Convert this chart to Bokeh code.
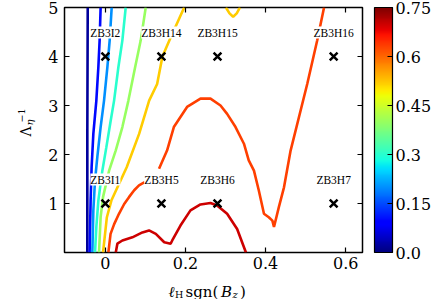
import numpy as np
from bokeh.plotting import figure
from bokeh.layouts import row, column
from bokeh.core.properties import value
from bokeh.models import (ColumnDataSource, LinearColorMapper, ColorBar, FixedTicker,
                          LinearAxis, CustomJSTickFormatter, LabelSet, Range1d)
from bokeh.transform import linear_cmap
from bokeh.embed import file_html
from bokeh.resources import INLINE

# ---------------- data ----------------
# contour levels (colour on the 0..0.75 jet scale)
levels = [0.02, 0.1, 0.2, 0.3, 0.4, 0.52, 0.52, 0.63, 0.63, 0.7]

c_navy_x = [-0.045, -0.045, -0.044]
c_navy_y = [0.0, 2.5, 5.0]

c_blue_x = [-0.0393, -0.0368, -0.0343, -0.030, -0.0225, -0.0175, -0.0143, -0.0118]
c_blue_y = [0.0, 1.06, 1.74, 2.42, 3.10, 3.78, 4.33, 5.0]

c_dodger_x = [-0.0325, -0.030, -0.0258, -0.020, -0.0118, -0.0033, 0.005, 0.0108, 0.0158]
c_dodger_y = [0.0, 0.86, 1.47, 1.95, 2.56, 3.10, 3.78, 4.33, 5.0]

c_cyan_x = [-0.0258, -0.0225, -0.0175, -0.0075, 0.0025, 0.0133, 0.0218, 0.0325, 0.0425, 0.0508]
c_cyan_y = [0.0, 0.52, 1.06, 1.67, 2.15, 2.69, 3.10, 3.78, 4.33, 5.0]

c_green_x = [-0.0158, -0.0118, -0.0058, 0.0093, 0.0258, 0.0425, 0.0575, 0.0743, 0.0883, 0.1008]
c_green_y = [0.0, 0.72, 1.13, 1.67, 2.08, 2.56, 3.10, 3.78, 4.33, 5.0]

c_gold_x = [-0.0058, 0.0038, 0.015, 0.0533, 0.0843, 0.1093, 0.1293, 0.1425, 0.160, 0.1968]
c_gold_y = [0.0, 0.72, 1.06, 1.74, 2.42, 3.10, 3.44, 4.0, 4.33, 5.0]

c_goldtop_x = [0.301, 0.310, 0.319, 0.328, 0.336]
c_goldtop_y = [5.0, 4.88, 4.81, 4.88, 5.0]

c_orange1_x = [0.0075, 0.013, 0.022, 0.034, 0.047, 0.059, 0.072, 0.084, 0.097, 0.105]
c_orange1_y = [0.0, 0.38, 0.58, 0.79, 0.99, 1.13, 1.27, 1.37, 1.43, 1.41]

c_orange2_x = [0.134, 0.154, 0.171, 0.204, 0.2375, 0.2625, 0.2875, 0.304, 0.325, 0.346,
               0.358, 0.371, 0.383, 0.396, 0.408, 0.417, 0.421, 0.433, 0.446, 0.4625,
               0.504, 0.529, 0.546]
c_orange2_y = [1.71, 2.08, 2.56, 2.97, 3.14, 3.14, 3.0, 2.83, 2.56, 2.22,
               1.88, 1.67, 1.27, 0.79, 0.72, 0.65, 0.52, 0.92, 1.33, 2.08,
               3.44, 4.33, 5.0]

c_red_x = [0.026, 0.030, 0.0425, 0.0675, 0.0925, 0.109, 0.126, 0.147, 0.163, 0.167,
           0.1875, 0.2125, 0.2375, 0.2625, 0.279, 0.304, 0.329, 0.351]
c_red_y = [0.0, 0.18, 0.245, 0.31, 0.41, 0.45, 0.38, 0.21, 0.18, 0.245,
           0.55, 0.86, 0.98, 1.01, 0.96, 0.79, 0.48, 0.0]

run_names = ["ZB3I2", "ZB3H14", "ZB3H15", "ZB3H16", "ZB3I1", "ZB3H5", "ZB3H6", "ZB3H7"]
run_x = [0.0, 0.14, 0.28, 0.57, 0.0, 0.14, 0.28, 0.57]
run_y = [4, 4, 4, 4, 1, 1, 1, 1]

x_ticks = [0.0, 0.2, 0.4, 0.6]
y_ticks = [1, 2, 3, 4, 5]
cbar_ticks = [0.0, 0.15, 0.3, 0.45, 0.6, 0.75]

# ---------------- jet palette ----------------
def jet(n=256):
    t = np.linspace(0, 1, n)
    r = np.interp(t, [0, 0.35, 0.66, 0.89, 1], [0, 0, 1, 1, 0.5])
    g = np.interp(t, [0, 0.125, 0.375, 0.64, 0.91, 1], [0, 0, 1, 1, 0, 0])
    b = np.interp(t, [0, 0.11, 0.34, 0.65, 1], [0.5, 1, 1, 0, 0])
    return ["#%02x%02x%02x" % (int(round(255 * a)), int(round(255 * bb)), int(round(255 * c)))
            for a, bb, c in zip(r, g, b)]

palette = jet()

SERIF = "DejaVu Serif"
TICK_SIZE = "16px"

# ---------------- main plot ----------------
p = figure(width=396, height=275, output_backend="svg", toolbar_location=None,
           x_range=Range1d(-0.102, 0.642), y_range=Range1d(0, 5),
           min_border_left=24, min_border_top=7, min_border_bottom=23, min_border_right=74)
p.background_fill_color = "white"
p.border_fill_color = "white"
p.grid.visible = False
p.outline_line_color = "black"
p.outline_line_width = 1.5

src = ColumnDataSource(dict(
    xs=[c_navy_x, c_blue_x, c_dodger_x, c_cyan_x, c_green_x, c_gold_x, c_goldtop_x,
        c_orange1_x, c_orange2_x, c_red_x],
    ys=[c_navy_y, c_blue_y, c_dodger_y, c_cyan_y, c_green_y, c_gold_y, c_goldtop_y,
        c_orange1_y, c_orange2_y, c_red_y],
    level=levels))
p.multi_line(xs="xs", ys="ys", source=src, line_width=2.6,
             line_color=linear_cmap("level", palette, 0, 0.75))

rsrc = ColumnDataSource(dict(x=run_x, y=run_y, name=run_names))
p.scatter(x="x", y="y", source=rsrc, marker="x", size=11, line_width=2.5, line_color="black")
labels = LabelSet(x="x", y="y", text="name", source=rsrc, y_offset=24,
                  text_align="center", text_baseline="middle",
                  text_font=SERIF, text_font_size="11.5px", text_color="black",
                  background_fill_color="white")
p.add_layout(labels)


def style_axis(ax):
    ax.major_tick_in = 5
    ax.major_tick_out = 0
    ax.minor_tick_line_color = None
    ax.major_tick_line_color = "black"
    ax.major_tick_line_width = 1.2
    ax.axis_line_color = None
    ax.major_label_text_font = SERIF
    ax.major_label_text_font_size = TICK_SIZE
    ax.major_label_text_color = "black"


xb = p.xaxis[0]
xb.ticker = FixedTicker(ticks=x_ticks)
xb.formatter = CustomJSTickFormatter(code="return Math.abs(tick) < 1e-9 ? '0' : tick.toFixed(1)")
style_axis(xb)
xb.major_label_standoff = 4

yl = p.yaxis[0]
yl.ticker = FixedTicker(ticks=y_ticks)
style_axis(yl)
yl.major_label_standoff = 6

empty = CustomJSTickFormatter(code="return ''")
xt = LinearAxis(ticker=FixedTicker(ticks=x_ticks), formatter=empty, major_label_standoff=0)
style_axis(xt)
p.add_layout(xt, "above")
yr = LinearAxis(ticker=FixedTicker(ticks=y_ticks), formatter=empty, major_label_standoff=0)
style_axis(yr)
p.add_layout(yr, "right")

mapper = LinearColorMapper(palette=palette, low=0, high=0.75)
cb = ColorBar(color_mapper=mapper, ticker=FixedTicker(ticks=cbar_ticks),
              formatter=CustomJSTickFormatter(
                  code="return Math.abs(tick) < 1e-9 ? '0.0' : String(Math.round(tick*100)/100)"),
              width=18, height=245, padding=0, margin=0, location=(310, 0),
              bar_line_color="black", bar_line_width=1.2,
              major_tick_in=5, major_tick_out=0, major_tick_line_color="black",
              label_standoff=3, major_label_text_font=SERIF,
              major_label_text_font_size=TICK_SIZE, major_label_text_color="black",
              background_fill_color=None, border_line_color=None)
p.add_layout(cb)


# ---------------- axis titles (real text) in two thin strips ----------------
def strip(w, h, xr, yr_, bl=0, br=0):
    f = figure(width=w, height=h, x_range=Range1d(*xr), y_range=Range1d(*yr_),
               output_backend="svg", toolbar_location=None, min_border=0,
               min_border_left=bl, min_border_right=br,
               x_axis_type=None, y_axis_type=None)
    f.grid.visible = False
    f.outline_line_color = None
    f.background_fill_color = "white"
    f.border_fill_color = "white"
    return f


def put(f, text, x, y, size, style="normal", angle=0.0, align="left", base="alphabetic"):
    f.text(x=[x], y=[y], text=[text], angle=angle, text_align=align, text_baseline=base,
           text_font=value(SERIF), text_font_size=size, text_font_style=style,
           text_color="black")


# left strip: page pixels x 0..40, y 0..299 (y grows downward)
left = strip(40, 299, (0, 40), (299, 0))
put(left, "Λ", 25, 131, "14px", angle=np.pi / 2, align="center", base="middle")
put(left, "η", 28.5, 122, "10px", "italic", angle=np.pi / 2, align="center", base="middle")
put(left, "−1", 21, 115, "9.5px", angle=np.pi / 2, align="center", base="middle")

# bottom strip: its frame lines up with the main frame (page x 64..362), y 275..299
bottom = strip(396, 24, (64, 362), (299, 275), bl=24, br=74)
put(bottom, "ℓ", 168, 291, "15px", "italic")
put(bottom, "H", 174.5, 294, "9.5px")
put(bottom, "sgn(", 185, 291, "15px")
put(bottom, "B", 220.5, 291, "15px", "italic")
put(bottom, "z", 232, 294, "10px", "italic")
put(bottom, ")", 239.5, 291, "15px")

layout = row(left, column(p, bottom, spacing=0), spacing=0)

open("out.html", "w").write(file_html(layout, INLINE))
